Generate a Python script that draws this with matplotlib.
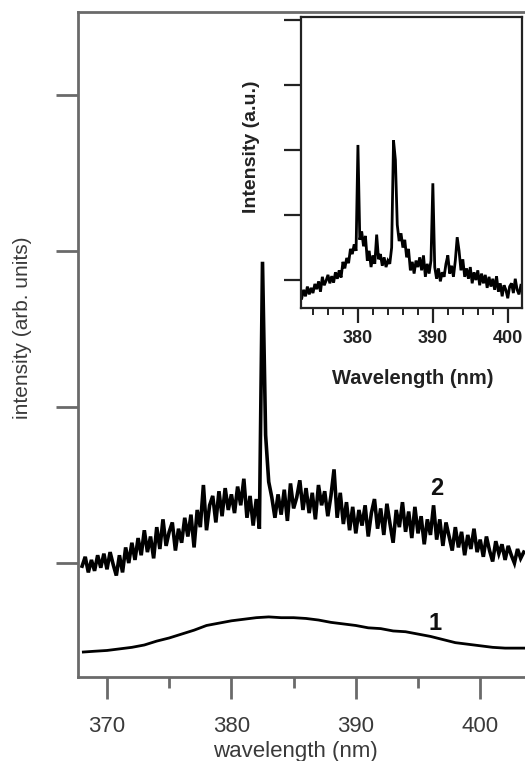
import numpy as np
import matplotlib
matplotlib.use("Agg")
import matplotlib.pyplot as plt
from matplotlib.ticker import MultipleLocator

plt.rcParams['font.family'] = ['Liberation Sans', 'DejaVu Sans']

# ---------------- data ----------------
# main panel, curve 2 (noisy spectrum), 0.25 nm sampling starting at 368.0 nm
curve2_start = 368.0
curve2_step = 0.25
curve2_y = [
    -0.02, 0.04, -0.06, 0.02, -0.05, 0.05, -0.03, 0.06,
    -0.04, 0.07, -0.01, -0.08, 0.05, -0.06, 0.10, 0.00,
    0.13, 0.02, 0.16, 0.05, 0.21, 0.07, 0.17, 0.03,
    0.23, 0.09, 0.28, 0.11, 0.20, 0.26, 0.08, 0.22,
    0.13, 0.29, 0.17, 0.31, 0.10, 0.34, 0.23, 0.50,
    0.21, 0.37, 0.43, 0.26, 0.46, 0.30, 0.48, 0.34,
    0.44, 0.32, 0.49, 0.37, 0.54, 0.29, 0.43, 0.24,
    0.41, 0.22, 1.93, 0.82, 0.52, 0.42, 0.29, 0.44,
    0.31, 0.47, 0.27, 0.51, 0.35, 0.42, 0.53, 0.34,
    0.48, 0.32, 0.45, 0.28, 0.50, 0.37, 0.46, 0.30,
    0.43, 0.60, 0.29, 0.45, 0.25, 0.39, 0.21, 0.36,
    0.19, 0.34, 0.24, 0.37, 0.17, 0.32, 0.41, 0.22,
    0.35, 0.18, 0.38, 0.25, 0.13, 0.34, 0.23, 0.39,
    0.20, 0.33, 0.16, 0.36, 0.19, 0.30, 0.12, 0.28,
    0.18, 0.37, 0.15, 0.28, 0.11, 0.26, 0.17, 0.08,
    0.23, 0.10, 0.20, 0.05, 0.18, 0.09, 0.22, 0.07,
    0.15, 0.04, 0.17, 0.08, 0.01, 0.14, 0.06, 0.12,
    0.02, 0.11, 0.05, 0.00, 0.09, 0.03, 0.07,
]

# main panel, curve 1 (smooth band)
curve1_x = [368.1, 369, 370, 371, 372, 373, 374, 375, 376, 377, 378, 379,
            380, 381, 382, 383, 384, 385, 386, 387, 388, 389, 390, 391,
            392, 393, 394, 395, 396, 397, 398, 399, 400, 401, 402, 403, 403.6]
curve1_y = [-0.57, -0.565, -0.56, -0.55, -0.54, -0.525, -0.50, -0.48, -0.455,
            -0.43, -0.40, -0.385, -0.37, -0.36, -0.35, -0.345, -0.35, -0.35,
            -0.355, -0.365, -0.38, -0.39, -0.40, -0.415, -0.42, -0.435, -0.44,
            -0.455, -0.47, -0.49, -0.51, -0.52, -0.53, -0.54, -0.545, -0.545,
            -0.545]

# inset spectrum, 0.25 nm sampling starting at 372.5 nm
inset_start = 372.5
inset_step = 0.25
inset_y = [
    -0.28, -0.15, -0.25, -0.10, -0.22, -0.12, -0.20, -0.06,
    -0.14, -0.02, -0.18, 0.05, -0.08, -0.01, 0.08, -0.05,
    0.06, -0.04, 0.12, 0.02, 0.15, 0.04, 0.28, 0.18,
    0.34, 0.26, 0.48, 0.40, 0.55, 0.45, 2.08, 0.62,
    0.75, 0.52, 0.68, 0.30, 0.45, 0.20, 0.38, 0.25,
    0.70, 0.32, 0.40, 0.22, 0.35, 0.20, 0.30, 0.25,
    0.50, 2.15, 1.85, 0.85, 0.60, 0.72, 0.50, 0.62,
    0.35, 0.48, 0.15, 0.28, 0.10, 0.30, 0.20, 0.35,
    0.15, 0.38, 0.05, 0.25, 0.10, 0.30, 1.49, 0.20,
    0.02, 0.18, -0.02, 0.12, 0.05, 0.25, 0.38, 0.10,
    0.22, 0.05, 0.30, 0.66, 0.45, 0.15, 0.32, 0.05,
    0.18, 0.02, 0.20, -0.05, 0.12, 0.00, 0.15, -0.08,
    0.10, -0.05, 0.08, -0.12, 0.05, -0.10, 0.02, -0.15,
    0.06, -0.18, -0.05, -0.25, -0.08, -0.15, -0.28, -0.10,
    -0.05, -0.20, 0.02, -0.15, -0.22, -0.08,
]

main_xticks = [370, 380, 390, 400]
main_xminor = [375, 385, 395]
main_yticks = [0, 1, 2, 3]
inset_xticks = [380, 390, 400]
inset_yticks = [0, 1, 2, 3, 4]
curve_labels = ["1", "2"]
curve_label_pos = [(396.4, -0.385), (396.5, 0.48)]

curve2_x = curve2_start + curve2_step * np.arange(len(curve2_y))
inset_x = inset_start + inset_step * np.arange(len(inset_y))

# ---------------- figure ----------------
W, H = 525, 761
fig = plt.figure(figsize=(W / 100, H / 100), dpi=100)

axis_grey = '#6a6a6a'
text_grey = '#3a3a3a'

# main axes
l, r, t, b = 78, 525, 12, 677
ax = fig.add_axes([l / W, 1 - b / H, (r - l) / W, (b - t) / H])
ax.plot(curve2_x, curve2_y, color='black', lw=2.6, solid_joinstyle='miter')
ax.plot(curve1_x, curve1_y, color='black', lw=2.0)
ax.set_xlim(367.67, 403.6)
ax.set_ylim(-0.73, 3.53)
ax.spines['right'].set_visible(False)
for s in ['left', 'bottom', 'top']:
    ax.spines[s].set_color(axis_grey)
    ax.spines[s].set_linewidth(2.0)
ax.set_xticks(main_xticks)
ax.set_xticks(main_xminor, minor=True)
ax.set_yticks(main_yticks)
ax.set_yticklabels([])
ax.tick_params(axis='x', which='major', direction='out', length=16, width=2,
               color=axis_grey, labelsize=16, labelcolor=text_grey, pad=12)
ax.tick_params(axis='x', which='minor', direction='out', length=8, width=2,
               color=axis_grey)
ax.tick_params(axis='y', which='major', direction='out', length=16, width=2,
               color=axis_grey)
ax.set_xlabel('wavelength (nm)', fontsize=16, color=text_grey, va='center')
ax.xaxis.set_label_coords((295 - l) / (r - l), (b - 752) / (b - t))
ax.set_ylabel('intensity (arb. units)', fontsize=15, color=text_grey,
              va='center', ha='center')
ax.yaxis.set_label_coords((23 - l) / (r - l), (b - 328) / (b - t))

for txt, (xx, yy) in zip(curve_labels, curve_label_pos):
    ax.text(xx, yy, txt, fontsize=17, fontweight='bold', ha='center',
            va='center', color='#111111')

# inset axes
il, ir, it, ib = 301, 522, 17, 308
ins = fig.add_axes([il / W, 1 - ib / H, (ir - il) / W, (ib - it) / H])
ins.set_facecolor('white')
ins.plot(inset_x, inset_y, color='black', lw=2.0, solid_joinstyle='miter')
ins.set_xlim(372.4, 401.9)
ins.set_ylim(-0.43, 4.05)
for s in ins.spines.values():
    s.set_color('#222222')
    s.set_linewidth(1.6)
ins.set_xticks(inset_xticks)
ins.xaxis.set_minor_locator(MultipleLocator(2))
ins.set_yticks(inset_yticks)
ins.set_yticklabels([])
ins.tick_params(axis='x', which='major', direction='out', length=11, width=1.6,
                color='#222222', labelsize=13, labelcolor='#222222', pad=5)
ins.tick_params(axis='x', which='minor', direction='out', length=5, width=1.4,
                color='#222222')
ins.tick_params(axis='y', which='major', direction='out', length=12, width=1.6,
                color='#222222')
for lab in ins.get_xticklabels():
    lab.set_fontweight('bold')
ins.set_xlabel('Wavelength (nm)', fontsize=14.5, fontweight='bold',
               color='#222222', va='center')
ins.xaxis.set_label_coords((413 - il) / (ir - il), (ib - 378) / (ib - it))
ins.set_ylabel('Intensity (a.u.)', fontsize=14, fontweight='bold',
               color='#222222', va='center', ha='center')
ins.yaxis.set_label_coords((251 - il) / (ir - il), (ib - 147) / (ib - it))

fig.savefig('out.png', dpi=100)
